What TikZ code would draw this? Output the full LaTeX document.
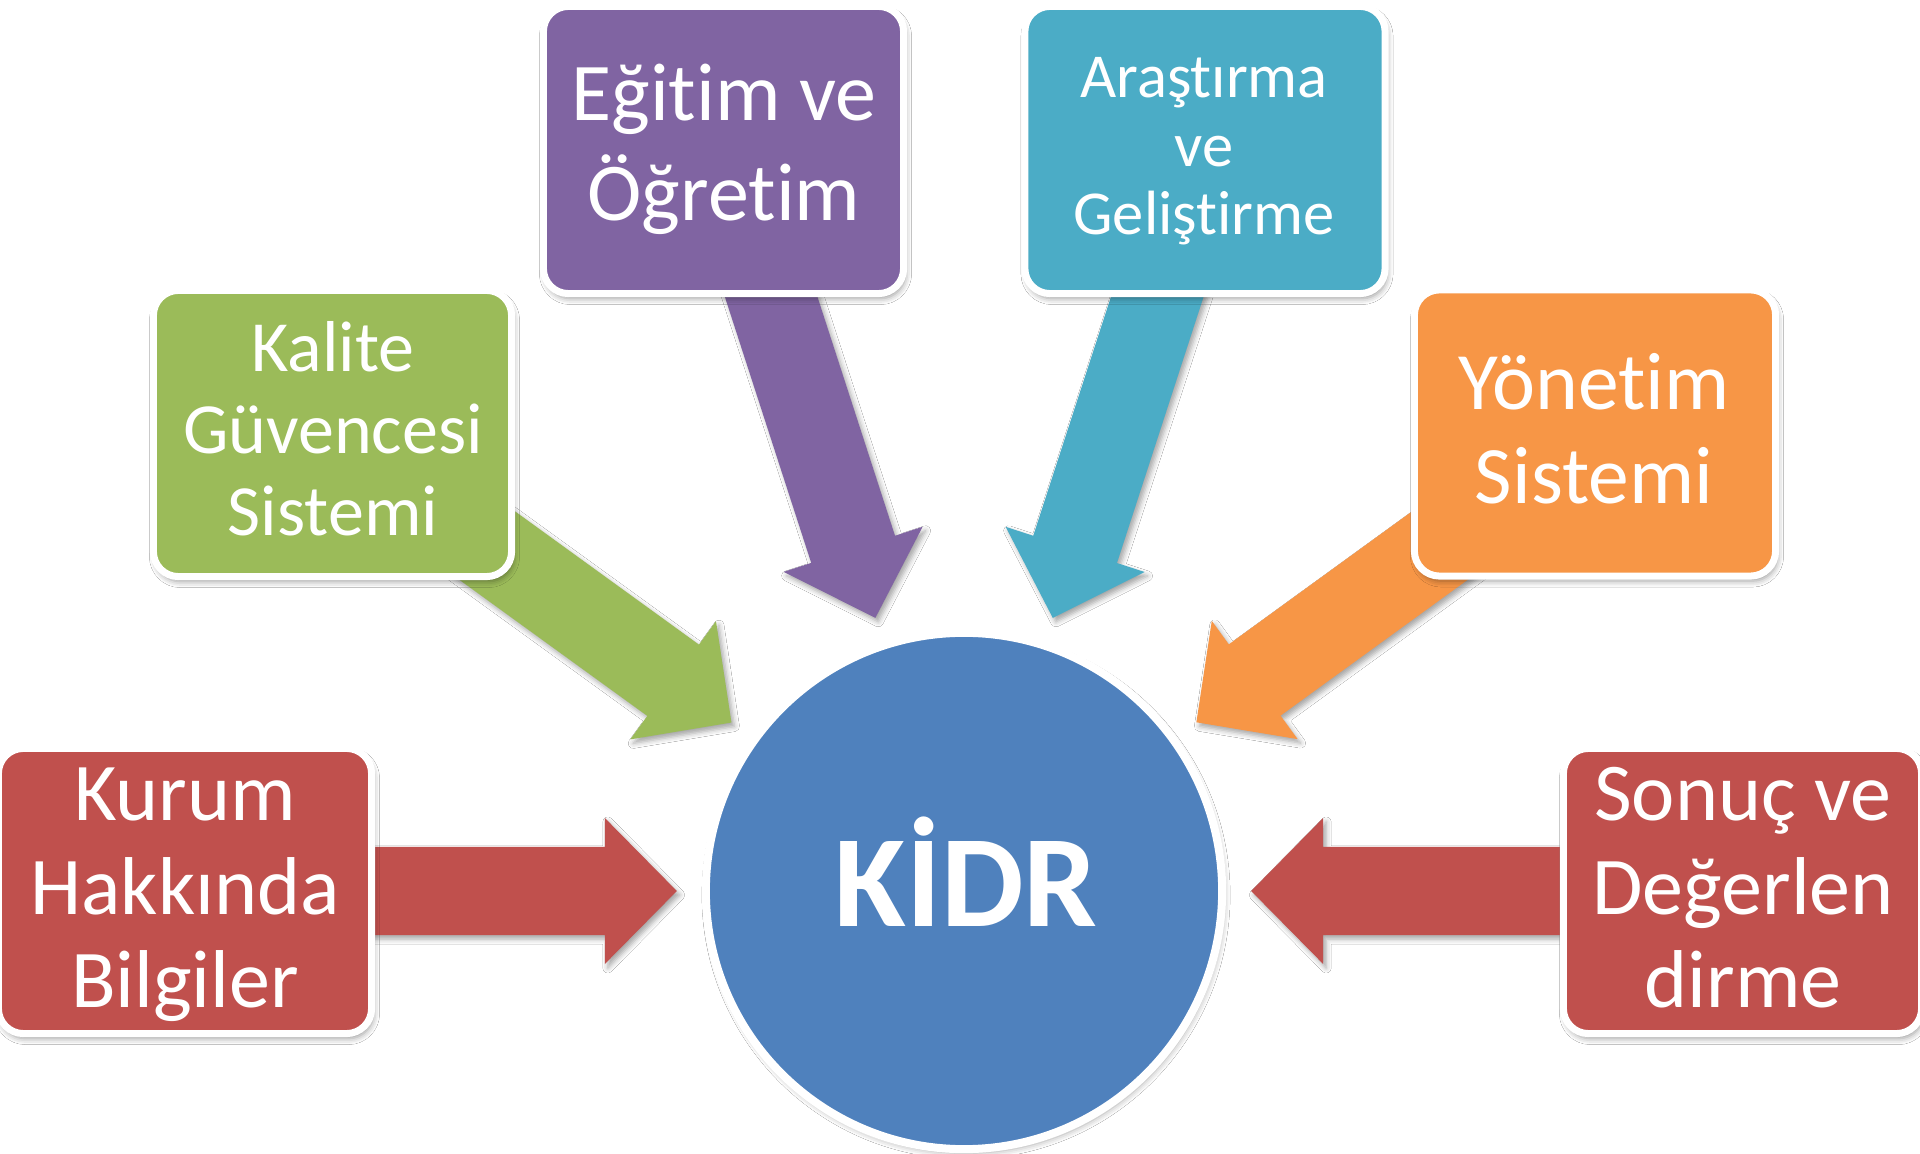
\documentclass[tikz,border=0pt]{standalone}
\usepackage{fontspec}
\setmainfont{Carlito}[Ligatures=NoCommon]
\usetikzlibrary{calc,shadows.blur,backgrounds}
\definecolor{cPurple}{HTML}{8064A2}
\definecolor{cTeal}{HTML}{4BACC6}
\definecolor{cGreen}{HTML}{9BBB59}
\definecolor{cOrange}{HTML}{F79646}
\definecolor{cRed}{HTML}{C0504D}
\definecolor{cBlue}{HTML}{4F81BD}
\tikzset{
  box/.style={rectangle, rounded corners=0.25cm, draw=white, line width=0.07cm, inner sep=0pt,
    blur shadow={shadow xshift=0.02cm, shadow yshift=-0.05cm, shadow blur radius=0.06cm, shadow opacity=40}},
  boxtext/.style={text=white, anchor=base, inner sep=0pt, outer sep=0pt},
  arrowshadow/.style={blur shadow={shadow xshift=0.03cm, shadow yshift=-0.04cm, shadow blur radius=0.05cm, shadow opacity=35}},
  hub/.style={circle, fill=cBlue, draw=white, line width=0.08cm, minimum size=5.16cm, inner sep=0pt,
    blur shadow={shadow xshift=0.02cm, shadow yshift=-0.04cm, shadow blur radius=0.06cm, shadow opacity=35}}
}
\newcommand\hubarrow[3]{%
  \coordinate (#3) at ($(kidr.center)!2.87cm!(#2.center)$);
  \coordinate (#3b) at ($(#3)!0.72cm!(#2.center)$);
  \fill[#1, arrowshadow] ($(#2.center)!0.44cm!90:(#3)$) -- ($(#3b)!0.44cm!90:(#3)$)
    -- ($(#3b)!0.73cm!90:(#3)$) -- (#3) -- ($(#3b)!0.73cm!-90:(#3)$)
    -- ($(#3b)!0.44cm!-90:(#3)$) -- ($(#2.center)!0.44cm!-90:(#3)$) -- cycle;
}
\begin{document}
\begin{tikzpicture}[x=0.01cm, y=0.01cm]
\useasboundingbox (0,0) rectangle (1920,1154);

% hub
\node[hub] (kidr) at (964,263) {};
\node[boxtext, font=\fontsize{1.31cm}{1.5cm}\selectfont\bfseries] (kidrt) at (966,227) {KİDR};

% boxes
\node[box, fill=cPurple, minimum width=3.60cm, minimum height=2.87cm] (egitim) at (723.5,1004) {};
\node[box, fill=cTeal, minimum width=3.60cm, minimum height=2.87cm] (arastirma) at (1205,1004) {};
\node[box, fill=cGreen, minimum width=3.58cm, minimum height=2.86cm] (kalite) at (332.5,720.5) {};
\node[box, fill=cOrange, minimum width=3.61cm, minimum height=2.86cm] (yonetim) at (1595,721) {};
\node[box, fill=cRed, minimum width=3.73cm, minimum height=2.85cm] (kurum) at (185,263) {};
\node[box, fill=cRed, minimum width=3.58cm, minimum height=2.85cm] (sonuc) at (1742.5,263) {};

% texts
\node[boxtext, font=\fontsize{0.82cm}{0.99cm}\selectfont] (egitimt) at (724,1033)
  {\begin{tabular}[t]{@{}c@{}}Eğitim ve\\Öğretim\end{tabular}};
\node[boxtext, font=\fontsize{0.625cm}{0.68cm}\selectfont] (arastirmat) at (1204,1056)
  {\begin{tabular}[t]{@{}c@{}}Araştırma\\ve\\Geliştirme\end{tabular}};
\node[boxtext, font=\fontsize{0.72cm}{0.815cm}\selectfont] (kalitet) at (333,782)
  {\begin{tabular}[t]{@{}c@{}}Kalite\\Güvencesi\\Sistemi\end{tabular}};
\node[boxtext, font=\fontsize{0.815cm}{0.93cm}\selectfont] (yonetimt) at (1594,744)
  {\begin{tabular}[t]{@{}c@{}}Yönetim\\Sistemi\end{tabular}};
\node[boxtext, font=\fontsize{0.82cm}{0.93cm}\selectfont] (kurumt) at (185,333)
  {\begin{tabular}[t]{@{}c@{}}Kurum\\Hakkında\\Bilgiler\end{tabular}};
\node[boxtext, font=\fontsize{0.82cm}{0.93cm}\selectfont] (sonuct) at (1743,333)
  {\begin{tabular}[t]{@{}c@{}}Sonuç ve\\Değerlen\\dirme\end{tabular}};

% arrows (behind the boxes)
\begin{pgfonlayer}{background}
  \fill[white] (0,0) rectangle (1920,1154);
  \hubarrow{cPurple}{egitim}{tipa}
  \hubarrow{cTeal}{arastirma}{tipb}
  \hubarrow{cGreen}{kalite}{tipc}
  \hubarrow{cOrange}{yonetim}{tipd}
  \hubarrow{cRed}{kurum}{tipe}
  \hubarrow{cRed}{sonuc}{tipf}
\end{pgfonlayer}
\end{tikzpicture}
\end{document}
